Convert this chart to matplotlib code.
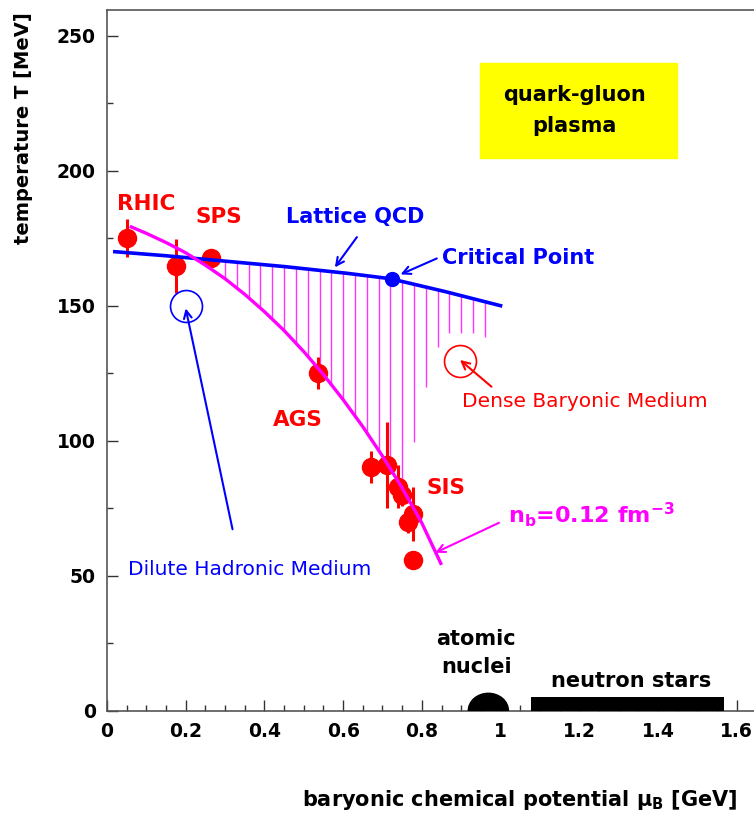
import numpy as np
import matplotlib
matplotlib.use('Agg')
import matplotlib.pyplot as plt
from matplotlib.patches import Rectangle, Ellipse
from matplotlib.ticker import MultipleLocator, FormatStrFormatter

plt.rcParams['font.family'] = ['DejaVu Sans']
plt.rcParams['mathtext.fontset'] = 'dejavusans'

# freeze-out data points (mu_B [GeV], T [MeV], errors)
pts_mu = [0.051, 0.175, 0.264, 0.536, 0.671, 0.711, 0.740, 0.749, 0.778, 0.765, 0.778]
pts_T = [175, 164.7, 167.6, 125, 90.2, 91, 83, 80, 73, 70, 56]
pts_Terr = [7, 10, 0, 6, 6, 16, 8, 4, 10, 4, 0]
pts_muerr = [0, 0, 0, 0, 0.012, 0.018, 0, 0.02, 0, 0, 0]

# lattice QCD phase boundary
lqcd_mu = [0.02, 0.15, 0.30, 0.45, 0.61, 0.72, 0.86, 1.0]
lqcd_T = [170, 168.5, 166.5, 164.5, 162, 160, 155.2, 150]

# chemical freeze-out curve n_b = 0.12 fm^-3
fo_mu = [0.058, 0.10, 0.15, 0.20, 0.25, 0.30, 0.35, 0.40, 0.45, 0.50,
         0.55, 0.60, 0.65, 0.70, 0.75, 0.80, 0.85]
fo_T = [179.4, 176.8, 173.4, 169.6, 165.0, 160.0, 154.2, 147.8, 140.8, 133.0,
        124.5, 115.2, 105.2, 94.3, 82.5, 69.5, 54.0]

# hatching between the curves
hatch_mu = [0.30, 0.33, 0.36, 0.39, 0.42, 0.45, 0.48, 0.51, 0.54, 0.57, 0.60,
            0.63, 0.66, 0.69, 0.72, 0.75, 0.78, 0.81, 0.84, 0.87, 0.90, 0.93, 0.96]
hatch_bot = [160, 156.5, 152.9, 149.1, 145.0, 140.8, 136.1, 131.3, 126.2, 120.8, 115.2,
             109.2, 103.0, 96.5, 89.8, 82.5, 99.6, 120, 134.8, 140, 140, 140, 138.5]

crit_mu, crit_T = 0.724, 160
dilute_mu, dilute_T = 0.2, 150
dense_mu, dense_T = 0.897, 129.6
nuclei_mu, nuclei_w, nuclei_h = 0.969, 0.102, 6.45
nstar_mu0, nstar_mu1, nstar_h = 1.077, 1.568, 5
qgp_box = (0.948, 204.7, 0.501, 35.1)

fig = plt.figure(figsize=(7.54, 8.17), dpi=100)
ax = fig.add_axes([0.1419, 0.1301, 0.8581, 0.8576])
ax.set_axisbelow(True)

# hatch lines
hatch_top = np.interp(hatch_mu, lqcd_mu, lqcd_T)
ax.vlines(hatch_mu, hatch_bot, hatch_top, color='#ff33ff', lw=1.0, zorder=1)

ax.plot(lqcd_mu, lqcd_T, color='#0000ff', lw=2.6, zorder=3)
ax.plot(fo_mu, fo_T, color='#ff00ff', lw=2.4, zorder=4, solid_capstyle='butt')

ax.errorbar(pts_mu, pts_T, yerr=pts_Terr, xerr=pts_muerr, fmt='o', color='#ff0000',
            ms=13, elinewidth=2.2, capsize=0, zorder=2)

ax.plot([crit_mu], [crit_T], 'o', color='#0000ff', ms=10, zorder=5)
ax.plot([dilute_mu], [dilute_T], 'o', mfc='none', mec='#0000ff', mew=1.2, ms=23)
ax.plot([dense_mu], [dense_T], 'o', mfc='none', mec='#ff0000', mew=1.2, ms=23)

ax.add_patch(Rectangle(qgp_box[:2], qgp_box[2], qgp_box[3], color='#ffff00', zorder=1))
ax.text(qgp_box[0] + qgp_box[2] / 2 - 0.01, qgp_box[1] + qgp_box[3] / 2,
        'quark-gluon\nplasma', ha='center', va='center', fontsize=15,
        fontweight='bold', linespacing=1.7)

ax.add_patch(Ellipse((nuclei_mu, 0), nuclei_w, 2 * nuclei_h, color='black', zorder=3))
ax.bar(nstar_mu0, nstar_h, width=nstar_mu1 - nstar_mu0, align='edge', color='black', zorder=3)
ax.text(0.938, 21.5, 'atomic\nnuclei', ha='center', va='center', fontsize=15,
        fontweight='bold', linespacing=1.5)
ax.text(1.332, 11.1, 'neutron stars', ha='center', va='center', fontsize=15,
        fontweight='bold')

# labels
ax.text(0.025, 187.7, 'RHIC', color='#ff0000', fontsize=15.5, fontweight='bold', va='center')
ax.text(0.224, 182.7, 'SPS', color='#ff0000', fontsize=15.5, fontweight='bold', va='center')
ax.text(0.421, 107.7, 'AGS', color='#ff0000', fontsize=15.5, fontweight='bold', va='center')
ax.text(0.812, 82.4, 'SIS', color='#ff0000', fontsize=15.5, fontweight='bold', va='center')
ax.text(0.455, 183, 'Lattice QCD', color='#0000ff', fontsize=15, fontweight='bold', va='center')
ax.text(0.850, 167.8, 'Critical Point', color='#0000ff', fontsize=15, fontweight='bold', va='center')
ax.text(0.054, 52.4, 'Dilute Hadronic Medium', color='#0000ff', fontsize=14.5, va='center')
ax.text(0.902, 114.4, 'Dense Baryonic Medium', color='#ff0000', fontsize=14.5, va='center')
ax.text(1.02, 72.5, r'n$_\mathbf{b}$=0.12 fm$^{\mathbf{-3}}$', color='#ff00ff', fontsize=16,
        fontweight='bold', va='center')

arr = dict(arrowstyle='->', lw=1.5, mutation_scale=14, shrinkA=0, shrinkB=0)
ax.annotate('', xy=(0.579, 164.2), xytext=(0.635, 175.4), arrowprops=dict(arr, color='#0000ff'))
ax.annotate('', xy=(0.746, 161.6), xytext=(0.838, 167.5), arrowprops=dict(arr, color='#0000ff'))
ax.annotate('', xy=(0.2, 149), xytext=(0.319, 67.2), arrowprops=dict(arr, color='#0000ff'))
ax.annotate('', xy=(0.897, 129.9), xytext=(0.977, 120), arrowprops=dict(arr, color='#ff0000'))
ax.annotate('', xy=(0.834, 58.5), xytext=(0.996, 69.6), arrowprops=dict(arr, color='#ff00ff'))

# axes
ax.set_xlim(0, 1.644)
ax.set_ylim(0, 259.5)
ax.xaxis.set_major_locator(MultipleLocator(0.2))
ax.xaxis.set_minor_locator(MultipleLocator(0.05))
ax.yaxis.set_major_locator(MultipleLocator(50))
ax.yaxis.set_minor_locator(MultipleLocator(25))
ax.xaxis.set_major_formatter(FormatStrFormatter('%g'))
ax.tick_params(which='both', direction='in', color='#333333', width=1)
ax.tick_params(which='major', length=8, labelsize=13.5, pad=8)
ax.tick_params(which='minor', length=4.5)
for lab in ax.get_xticklabels() + ax.get_yticklabels():
    lab.set_fontweight('bold')
ax.spines['right'].set_visible(False)
for s in ['left', 'bottom', 'top']:
    ax.spines[s].set_color('#555555')
    ax.spines[s].set_linewidth(1.2)

fig.text(24 / 754, 1 - 128 / 817, 'temperature T [MeV]', rotation=90, ha='center',
         va='center', fontsize=14, fontweight='bold')
fig.text(520 / 754, 1 - 800 / 817,
         r'baryonic chemical potential μ$_\mathbf{B}$ [GeV]',
         ha='center', va='center', fontsize=15, fontweight='bold')

fig.savefig('out.png', dpi=100)
